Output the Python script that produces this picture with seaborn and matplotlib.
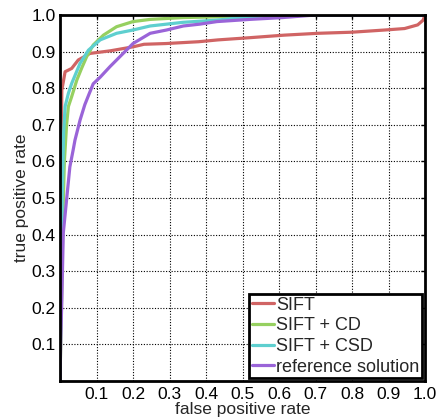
import numpy as np
import pandas as pd
import matplotlib
matplotlib.use("Agg")
import matplotlib.pyplot as plt
import seaborn as sns

sift_fpr = [0.0, 0.002, 0.005, 0.014, 0.032, 0.05, 0.082, 0.137, 0.2, 0.23, 0.29, 0.38, 0.433, 0.52, 0.615, 0.707, 0.80, 0.89, 0.944, 0.98, 0.995, 1.0]
sift_tpr = [0.0, 0.5, 0.795, 0.845, 0.854, 0.877, 0.895, 0.902, 0.913, 0.92, 0.922, 0.927, 0.932, 0.938, 0.945, 0.95, 0.953, 0.959, 0.963, 0.973, 0.986, 1.0]

cd_fpr = [0.0, 0.004, 0.008, 0.012, 0.018, 0.023, 0.032, 0.046, 0.059, 0.073, 0.091, 0.119, 0.155, 0.2, 0.247, 0.337, 0.43, 0.55, 0.65, 1.0]
cd_tpr = [0.0, 0.2, 0.45, 0.6, 0.7, 0.75, 0.777, 0.822, 0.854, 0.886, 0.918, 0.945, 0.968, 0.982, 0.988, 0.993, 0.995, 0.998, 1.0, 1.0]

csd_fpr = [0.0, 0.003, 0.006, 0.01, 0.014, 0.023, 0.032, 0.055, 0.078, 0.11, 0.155, 0.2, 0.247, 0.337, 0.43, 0.52, 0.6, 1.0]
csd_tpr = [0.0, 0.25, 0.5, 0.68, 0.75, 0.786, 0.813, 0.868, 0.904, 0.932, 0.95, 0.959, 0.97, 0.98, 0.986, 0.995, 1.0, 1.0]

ref_fpr = [0.0, 0.002, 0.005, 0.009, 0.018, 0.027, 0.036, 0.041, 0.055, 0.068, 0.08, 0.091, 0.11, 0.137, 0.173, 0.2, 0.247, 0.292, 0.338, 0.383, 0.43, 0.52, 0.61, 0.7, 1.0]
ref_tpr = [0.0, 0.112, 0.221, 0.404, 0.495, 0.585, 0.631, 0.658, 0.713, 0.755, 0.785, 0.812, 0.83, 0.859, 0.895, 0.922, 0.95, 0.959, 0.97, 0.975, 0.982, 0.988, 0.993, 1.0, 1.0]

labels = ["SIFT", "SIFT + CD", "SIFT + CSD", "reference solution"]
colors = ["#d06464", "#96d060", "#5ecfcf", "#9a64d8"]
ticks = [0.1, 0.2, 0.3, 0.4, 0.5, 0.6, 0.7, 0.8, 0.9, 1.0]
tick_labels = ["0.1", "0.2", "0.3", "0.4", "0.5", "0.6", "0.7", "0.8", "0.9", "1.0"]

frames = []
for lab, fx, fy in zip(labels, [sift_fpr, cd_fpr, csd_fpr, ref_fpr], [sift_tpr, cd_tpr, csd_tpr, ref_tpr]):
    frames.append(pd.DataFrame({"fpr": fx, "tpr": fy, "method": lab, "order": np.arange(len(fx))}))
df = pd.concat(frames, ignore_index=True)

sns.set_style("white")
plt.rcParams["font.family"] = ["Liberation Sans", "DejaVu Sans"]

fig = plt.figure(figsize=(4.38, 4.19), dpi=100)
ax = fig.add_axes([60/438, 1-381/419, 365/438, 366/419])

sns.lineplot(data=df, x="fpr", y="tpr", hue="method", hue_order=labels, palette=colors,
             sort=False, estimator=None, units="method", linewidth=2.3, ax=ax, legend=True)

ax.set_xlim(0, 1)
ax.set_ylim(0, 1)
ax.set_xticks(ticks)
ax.set_xticklabels(tick_labels)
ax.set_yticks(ticks)
ax.set_yticklabels(tick_labels)
ax.grid(True, linestyle=(0, (1, 1.5)), color="black", linewidth=0.8)
ax.tick_params(direction="in", length=3, width=1, labelsize=12.5, top=True, right=True, pad=3, colors="black")
ax.tick_params(axis="x", pad=4)
for s in ax.spines.values():
    s.set_visible(True)
    s.set_color("black")
    s.set_linewidth(2.0)
ax.set_xlabel("false positive rate", fontsize=12.5, labelpad=0)
ax.set_ylabel("true positive rate", fontsize=12.5, labelpad=2)

leg = ax.legend(loc="lower right", fontsize=13, frameon=True, fancybox=False,
                handlelength=1.2, handletextpad=0.15, borderpad=0.15, labelspacing=0.2,
                borderaxespad=0.15, edgecolor="black")
leg.get_frame().set_linewidth(2.0)
leg.get_frame().set_alpha(1)
for h in leg.get_lines():
    h.set_linewidth(2.3)

fig.savefig("out.png", dpi=100)
